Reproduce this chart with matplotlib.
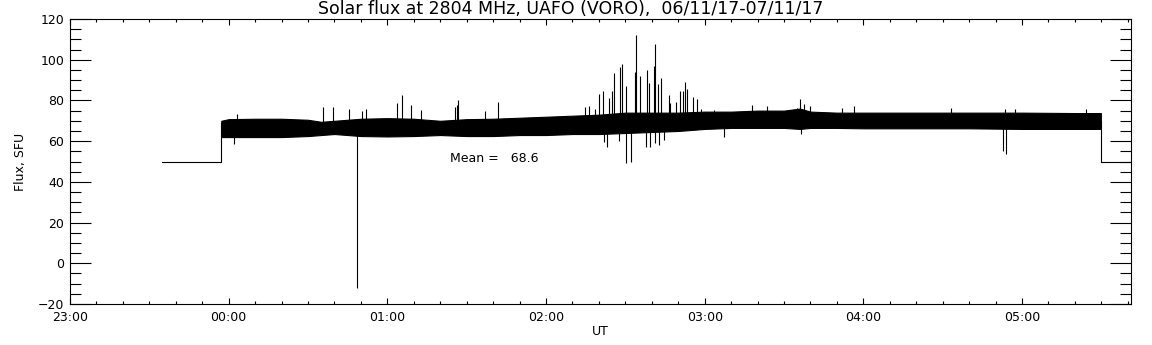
import numpy as np
import matplotlib
matplotlib.use("Agg")
import matplotlib.pyplot as plt
from matplotlib.ticker import MultipleLocator, FuncFormatter

# times in minutes from 00:00 UT (07/11/17); negative = previous day
band_t = [-2.8, 0, 10, 20, 30, 35, 40, 50, 60, 70, 80, 90, 100, 110, 120, 130,
          140, 150, 160, 170, 180, 190, 200, 210, 216, 220, 230, 240, 260, 280,
          300, 320, 329.8]
band_lo = [62.0, 62.0, 62.0, 62.0, 62.5, 63.0, 63.5, 62.5, 62.3, 62.5, 63.0, 62.5,
           62.5, 63.0, 63.0, 63.5, 63.5, 64.0, 64.5, 65.0, 66.0, 66.5, 66.5, 66.5,
           66.0, 66.5, 66.5, 66.3, 66.3, 66.3, 66.0, 66.0, 66.0]
band_hi = [70.0, 70.8, 71.0, 71.0, 70.5, 69.5, 70.0, 71.0, 71.3, 71.0, 70.0, 70.8,
           71.0, 71.5, 72.0, 72.5, 73.0, 74.0, 74.0, 74.0, 74.5, 74.5, 75.0, 75.0,
           76.0, 74.5, 74.0, 74.0, 74.0, 74.0, 74.0, 73.8, 73.8]

# upward bursts (time, peak flux)
up_t = [3.0, 35.8, 39.5, 45.6, 50.3, 51.9, 63.7, 65.4, 68.8, 72.6, 85.6, 86.2, 86.8,
        96.9, 101.9, 134.7, 136.3, 138.6, 140.1, 141.5, 143.9, 144.8, 145.7, 148.1,
        148.8, 150.3, 153.5, 154.1, 155.4, 158.3, 158.9, 160.8, 161.1, 162.2, 163.5,
        166.6, 166.9, 169.1, 170.7, 171.9, 172.5, 173.2, 175.4, 177.2, 178.5, 183.5,
        197.7, 203.4, 214.8, 216.0, 217.6, 219.8, 231.8, 236.5, 273.0, 293.5, 297.3,
        324.0]
up_v = [73.3, 76.8, 76.6, 76.0, 75.0, 75.8, 78.6, 82.7, 77.8, 75.3, 76.9, 78.0, 80.4,
        74.8, 79.0, 76.9, 77.3, 75.8, 83.2, 84.6, 81.0, 84.8, 93.3, 96.3,
        97.9, 87.0, 94.1, 112.1, 92.0, 95.0, 88.7, 96.9, 107.7, 87.9, 90.9,
        82.7, 78.6, 79.4, 84.8, 84.6, 88.9, 85.6, 81.8, 80.7, 75.8, 75.3,
        77.8, 77.4, 76.4, 80.7, 78.1, 77.4, 76.4, 77.4, 76.1, 75.8, 75.8,
        75.8]

# downward dips (time, minimum flux)
dn_t = [2.1, 48.4, 141.8, 142.9, 147.7, 150.1, 152.2, 157.7, 159.4, 161.2, 162.7,
        164.5, 187.4, 216.4, 292.9, 293.8]
dn_v = [58.4, -12.0, 59.7, 57.0, 60.2, 49.1, 49.9, 57.3, 57.3, 59.2, 58.1,
        60.7, 61.9, 63.4, 55.2, 53.5]

# off-source (calibration) level before and after observation
pre_t = [-25.1, -2.8, -2.8]
pre_v = [50.0, 50.0, 69.0]
post_t = [329.8, 329.8, 345.0]
post_v = [70.0, 50.0, 50.0]

mean_flux = 68.6

fig = plt.figure(figsize=(11.52, 3.45), dpi=100)
ax = fig.add_axes([70 / 1152, 41 / 345, 1061 / 1152, 285 / 345])

lw = 0.8
ax.fill_between(band_t, band_lo, band_hi, color="black", lw=0.8)
mid = np.interp(up_t, band_t, band_lo) + 3
ax.vlines(up_t, mid, up_v, color="black", lw=lw)
mid = np.interp(dn_t, band_t, band_hi) - 3
ax.vlines(dn_t, dn_v, mid, color="black", lw=lw)
ax.plot(pre_t, pre_v, color="black", lw=lw)
ax.plot(post_t, post_v, color="black", lw=lw)

ax.text(83.7, 51.7, "Mean =   %.1f" % mean_flux, fontsize=9, ha="left", va="center")

ax.set_xlim(-60, 341.2)
ax.set_ylim(-20, 120)

ax.xaxis.set_major_locator(MultipleLocator(60))
ax.xaxis.set_minor_locator(MultipleLocator(10))
ax.yaxis.set_major_locator(MultipleLocator(20))
ax.yaxis.set_minor_locator(MultipleLocator(5))


def hhmm(m, pos):
    m = int(round(m)) % 1440
    return "%02d:%02d" % (m // 60, m % 60)


ax.xaxis.set_major_formatter(FuncFormatter(hhmm))
ax.tick_params(axis="both", which="both", direction="in", top=True, right=True,
               width=0.8, labelsize=9, color="black")
ax.tick_params(axis="x", which="major", length=4, pad=5)
ax.tick_params(axis="x", which="minor", length=2)
ax.tick_params(axis="y", which="major", length=15, pad=4)
ax.tick_params(axis="y", which="minor", length=8)
for s in ax.spines.values():
    s.set_linewidth(0.8)

ax.set_xlabel("UT", fontsize=9, labelpad=1)
ax.set_ylabel("Flux, SFU", fontsize=9, labelpad=8)

fig.text(571 / 1152, 1 - 9 / 345, "Solar flux at 2804 MHz, UAFO (VORO),  06/11/17-07/11/17",
         fontsize=12.5, ha="center", va="center")

fig.savefig("out.png", dpi=100, facecolor="white")
